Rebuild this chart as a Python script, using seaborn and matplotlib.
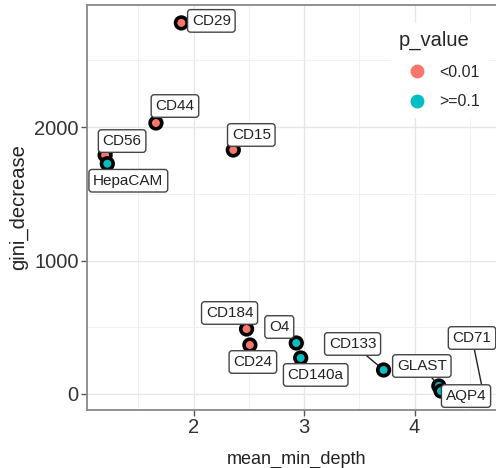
import matplotlib
matplotlib.use("Agg")
import matplotlib.pyplot as plt
from matplotlib.lines import Line2D
from matplotlib.ticker import MultipleLocator
import pandas as pd
import seaborn as sns

# Marker importance: depth vs. Gini decrease, coloured by p-value class
markers = ["CD29", "CD44", "CD56", "HepaCAM", "CD15", "CD184", "CD24",
           "O4", "CD140a", "CD133", "GLAST", "AQP4", "CD71"]
mean_min_depth = [1.89, 1.66, 1.20, 1.22, 2.36, 2.48, 2.51,
                  2.93, 2.97, 3.72, 4.22, 4.24, 4.62]
gini_decrease = [2780, 2030, 1790, 1725, 1828, 487, 367,
                 382, 270, 180, 60, 22, 15]
p_value = ["<0.01", "<0.01", "<0.01", ">=0.1", "<0.01", "<0.01", "<0.01",
           ">=0.1", ">=0.1", ">=0.1", ">=0.1", ">=0.1", ">=0.1"]
p_levels = ["<0.01", ">=0.1"]

df = pd.DataFrame({"marker": markers, "mean_min_depth": mean_min_depth,
                   "gini_decrease": gini_decrease, "p_value": p_value})

palette = {"<0.01": "#F8766D", ">=0.1": "#00BFC4"}

# label placement (pixel offsets from each point) and whether a leader line is drawn
label_offset = {
    "CD29": (30, 2), "CD44": (19, 17), "CD56": (17, 14), "HepaCAM": (21, -17),
    "CD15": (18, 15), "CD184": (-17, 16), "CD24": (3, -17), "O4": (-17, 16),
    "CD140a": (15, -17), "CD133": (-31, 26), "GLAST": (-17, 20),
    "AQP4": (25, -5), "CD71": (-11, 54),
}
with_segment = {"CD133", "GLAST", "CD71"}

sns.set_theme(style="white")
plt.rcParams["font.family"] = ["Liberation Sans", "DejaVu Sans"]

fig = plt.figure(figsize=(4.96, 4.68), dpi=100)
ax = fig.add_axes([0.1754, 0.1239, 0.843, 0.8654])

sns.scatterplot(data=df, x="mean_min_depth", y="gini_decrease", hue="p_value",
                hue_order=p_levels, palette=palette, s=70, edgecolor="black",
                linewidth=2.6, ax=ax, legend=False, zorder=3)

for name, x, y in zip(markers, mean_min_depth, gini_decrease):
    dx, dy = label_offset[name]
    kw = {}
    if name in with_segment:
        kw["arrowprops"] = dict(arrowstyle="-", color="#222222", lw=1.0,
                                shrinkA=0, shrinkB=5)
    ax.annotate(name, xy=(x, y), xytext=(dx, dy), textcoords="offset pixels",
                ha="center", va="center", fontsize=11, color="#222222",
                bbox=dict(boxstyle="round,pad=0.28,rounding_size=0.2",
                          fc="white", ec="#444444", lw=1.0),
                zorder=6 if name == "AQP4" else 5, **kw)

ax.set_xlim(1.036, 4.82)
ax.set_ylim(-120, 2914)
ax.xaxis.set_major_locator(MultipleLocator(1))
ax.xaxis.set_minor_locator(MultipleLocator(0.5))
ax.yaxis.set_major_locator(MultipleLocator(1000))
ax.yaxis.set_minor_locator(MultipleLocator(500))
ax.set_xticks([2, 3, 4])
ax.grid(which="major", color="#e6e6e6", lw=1.0, zorder=0)
ax.grid(which="minor", color="#f0f0f0", lw=0.7, zorder=0)
ax.set_axisbelow(True)

for side in ["left", "bottom", "top", "right"]:
    ax.spines[side].set_color("#888888")
    ax.spines[side].set_linewidth(1.3)

ax.tick_params(which="major", direction="out", length=4, width=1.0,
               color="#555555", labelsize=14.5, labelcolor="#333333",
               left=True, bottom=True, pad=2)
ax.tick_params(which="minor", length=0)

ax.set_xlabel("mean_min_depth", fontsize=13, color="#222222", labelpad=10)
ax.set_ylabel("gini_decrease", fontsize=14.5, color="#222222", labelpad=4)

handles = [Line2D([], [], marker="o", linestyle="", markersize=10,
                  markerfacecolor=palette[lv], markeredgewidth=0, label=lv)
           for lv in p_levels]
leg = ax.legend(handles=handles, title="p_value", loc="upper left",
                bbox_to_anchor=(0.708, 0.975), frameon=True, fontsize=11.5,
                title_fontsize=14.5, handlelength=2.2, handletextpad=0.35,
                labelspacing=0.9, borderpad=0.5, alignment="left")
leg.get_frame().set_facecolor("white")
leg.get_frame().set_edgecolor("white")
leg.get_frame().set_alpha(1)
leg.set_zorder(7)

fig.savefig("out.png", dpi=100)
